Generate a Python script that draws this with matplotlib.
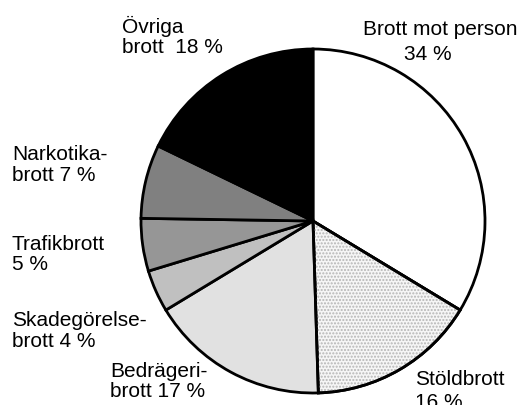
import matplotlib
matplotlib.use('Agg')
import matplotlib.pyplot as plt
from matplotlib.patches import Wedge

plt.rcParams['font.family'] = ['Liberation Sans', 'DejaVu Sans']

# Andel anmälda brott per kategori (%)
categories = ['Brott mot person', 'Stöldbrott', 'Bedrägeribrott', 'Skadegörelsebrott',
              'Trafikbrott', 'Narkotikabrott', 'Övriga brott']
shares = [34, 16, 17, 4, 5, 7, 18]
labels = ['Brott mot person', 'Stöldbrott\n16 %', 'Bedrägeri-\nbrott 17 %',
          'Skadegörelse-\nbrott 4 %', 'Trafikbrott\n5 %', 'Narkotika-\nbrott 7 %',
          'Övriga\nbrott  18 %']
colors = ['white', '#f6f6f6', '#e1e1e1', '#c0c0c0', '#969696', '#808080', 'black']

W, H = 521, 405
cx, cy, r = 313, 221, 172

fig = plt.figure(figsize=(W / 100, H / 100), dpi=100)
ax = fig.add_axes([0, 0, 1, 1])

wedges, _ = ax.pie(shares, colors=colors, startangle=90, counterclock=False,
                   radius=1, center=(0, 0), frame=True,
                   wedgeprops=dict(edgecolor='black', linewidth=2))
ax.set_xlim(-cx / r, (W - cx) / r)
ax.set_ylim(-(H - cy) / r, cy / r)
ax.axis('off')

# prickmönster för stöldbrott
w = wedges[1]
dots = Wedge(w.center, w.r, w.theta1, w.theta2, facecolor='none',
             edgecolor='#b5b5b5', linewidth=0, hatch='.....')
ax.add_patch(dots)
ax.add_patch(Wedge(w.center, w.r, w.theta1, w.theta2, facecolor='none',
                   edgecolor='black', linewidth=2))

def put(x, y, s, **kw):
    fig.text(x / W, 1 - y / H, s, fontsize=15, va='baseline', **kw)

# etiketter (pixelpositioner, baslinje)
put(363, 35, labels[0])
put(404, 60, '34 %')
for lab, x, y, gap in [(labels[1], 415, 385, 23), (labels[2], 110, 377, 20),
                       (labels[3], 12, 326, 21), (labels[4], 12, 250, 20),
                       (labels[5], 12, 160, 21), (labels[6], 122, 33, 20)]:
    top, bottom = lab.split('\n')
    put(x, y, top)
    put(x, y + gap, bottom)

fig.savefig('out.png', dpi=100)
